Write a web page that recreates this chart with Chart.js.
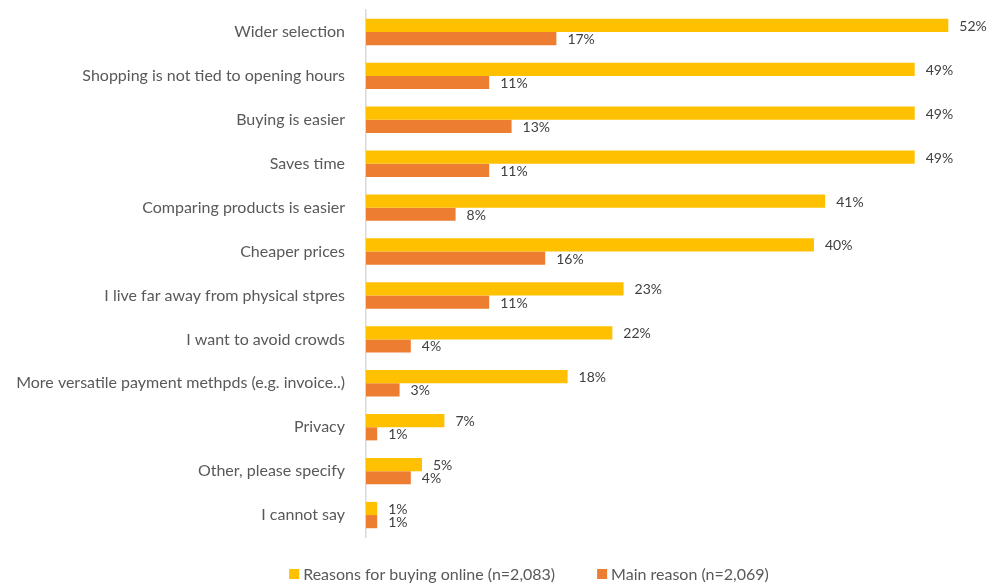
<!DOCTYPE html>
<html lang="en">
<head>
    <meta charset="UTF-8">
    <title>Reasons for buying online</title>
    <script src="https://cdn.jsdelivr.net/npm/chart.js"></script>
    <style>
        body { margin: 0; background: #fff; }
        #wrap { width: 992px; height: 585px; }
    </style>
</head>
<body>
<div id="wrap">
    <canvas id="reasonsChart" width="992" height="585"></canvas>
</div>

<script>
    const categories = [
        "Wider selection",
        "Shopping is not tied to opening hours",
        "Buying is easier",
        "Saves time",
        "Comparing products is easier",
        "Cheaper prices",
        "I live far away from physical stpres",
        "I want to avoid crowds",
        "More versatile payment methpds (e.g. invoice..)",
        "Privacy",
        "Other, please specify",
        "I cannot say"
    ];
    const reasonsOnline = [52, 49, 49, 49, 41, 40, 23, 22, 18, 7, 5, 1];
    const mainReason = [17, 11, 13, 11, 8, 16, 11, 4, 3, 1, 4, 1];
    const seriesNames = ["Reasons for buying online (n=2,083)", "Main reason (n=2,069)"];

    const FONT = "Lato, 'Open Sans', sans-serif";

    // percentage text just past the end of every bar
    const valueLabels = {
        id: 'valueLabels',
        afterDatasetsDraw(chart) {
            const ctx = chart.ctx;
            ctx.save();
            ctx.font = "14px " + FONT;
            ctx.fillStyle = "#404040";
            ctx.textAlign = "left";
            ctx.textBaseline = "middle";
            chart.data.datasets.forEach((ds, i) => {
                chart.getDatasetMeta(i).data.forEach((bar, j) => {
                    ctx.fillText(ds.data[j] + "%", bar.x + 11, bar.y + 1);
                });
            });
            ctx.restore();
        }
    };

    // legend row under the plot: square swatch + series name, wide gap between items
    const bottomLegend = {
        id: 'bottomLegend',
        afterDraw(chart) {
            const ctx = chart.ctx;
            const box = 10, gapText = 4, gapItem = 42, centerX = 529, y = 574;
            ctx.save();
            ctx.font = "16px " + FONT;
            ctx.textBaseline = "middle";
            ctx.textAlign = "left";
            const items = chart.data.datasets.map(ds => ({
                text: ds.label,
                color: ds.backgroundColor,
                w: box + gapText + ctx.measureText(ds.label).width
            }));
            const total = items.reduce((s, it) => s + it.w, 0) + gapItem * (items.length - 1);
            let x = centerX - total / 2;
            items.forEach(it => {
                ctx.fillStyle = it.color;
                ctx.fillRect(x, y - box / 2, box, box);
                ctx.fillStyle = '#595959';
                ctx.fillText(it.text, x + box + gapText, y + 1);
                x += it.w + gapItem;
            });
            ctx.restore();
        }
    };

    new Chart(document.getElementById('reasonsChart').getContext('2d'), {
        type: 'bar',
        data: {
            labels: categories,
            datasets: [
                {
                    label: seriesNames[0],
                    data: reasonsOnline,
                    backgroundColor: '#FFC000',
                    categoryPercentage: 0.6,
                    barPercentage: 1.0
                },
                {
                    label: seriesNames[1],
                    data: mainReason,
                    backgroundColor: '#ED7D31',
                    categoryPercentage: 0.6,
                    barPercentage: 1.0
                }
            ]
        },
        options: {
            indexAxis: 'y',
            responsive: false,
            animation: false,
            layout: {
                autoPadding: false,
                padding: { top: 10, right: 0, left: 0, bottom: 48 }
            },
            scales: {
                x: {
                    display: false,
                    min: 0,
                    max: 55.9
                },
                y: {
                    grid: { display: false },
                    border: { display: true, color: '#d9d9d9', width: 1.5 },
                    ticks: {
                        color: '#595959',
                        padding: 13,
                        font: { family: FONT, size: 16 }
                    },
                    // axis line at x = 366, plot runs 10..537
                    afterFit(scale) {
                        scale.width = 366;
                        scale.paddingTop = 0;
                        scale.paddingBottom = 0;
                    }
                }
            },
            plugins: {
                tooltip: { enabled: false },
                legend: { display: false }
            }
        },
        plugins: [valueLabels, bottomLegend]
    });
</script>
</body>
</html>
